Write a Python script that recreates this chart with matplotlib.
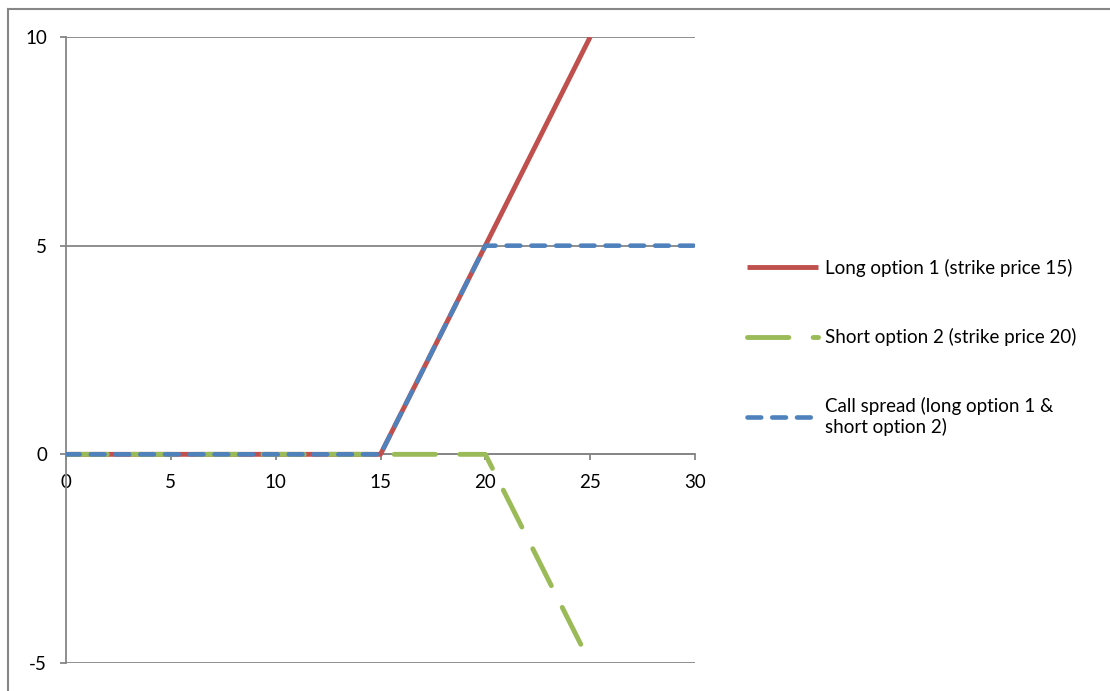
import matplotlib.pyplot as plt
from matplotlib.lines import Line2D

plt.rcParams['font.family'] = ['Lato', 'DejaVu Sans']

# payoff data
long_x = [0, 15, 25]
long_y = [0, 0, 10]
short_x = [0, 20, 25]
short_y = [0, 0, -5]
spread_x = [0, 15, 20, 30]
spread_y = [0, 0, 5, 5]

x_ticks = [0, 5, 10, 15, 20, 25, 30]
y_ticks = [-5, 0, 5, 10]

labels = ["Long option 1 (strike price 15)",
          "Short option 2 (strike price 20)",
          "Call spread (long option 1 &\nshort option 2)"]

grey = '#868686'

fig = plt.figure(figsize=(11.1, 6.91), dpi=100)
ax = fig.add_axes([66 / 1110, 1 - 663 / 691, (695 - 66) / 1110, (663 - 37) / 691])

ax.plot(long_x, long_y, color='#C0504D', lw=3.5, solid_capstyle='butt', label=labels[0], zorder=3)
ax.plot(short_x, short_y, color='#9BBB59', lw=3.5, dash_capstyle='round',
        linestyle=(0, (8.5, 5.0)), label=labels[1], zorder=4)
ax.plot(spread_x, spread_y, color='#4F81BD', lw=3.3, dash_capstyle='round',
        linestyle=(0, (3.0, 2.4)), label=labels[2], zorder=5)

ax.set_xlim(0, 30)
ax.set_ylim(-5, 10)
ax.set_xticks(x_ticks)
ax.set_yticks(y_ticks)
ax.set_yticklabels(['-5', '0', '5', '10'])

ax.grid(axis='y', color=grey, lw=1.3)
ax.set_axisbelow(True)
for s in ['top', 'right']:
    ax.spines[s].set_visible(False)
ax.spines['left'].set_color(grey)
ax.spines['left'].set_linewidth(1.3)
ax.spines['bottom'].set_position(('data', 0))
ax.spines['bottom'].set_color(grey)
ax.spines['bottom'].set_linewidth(1.3)
ax.tick_params(axis='y', direction='out', length=4.5, width=1.3, color=grey, pad=9, labelsize=13.5)
ax.tick_params(axis='x', direction='out', length=4.5, width=1.3, color=grey, pad=10, labelsize=13.5)

ax.legend(loc='upper left', bbox_to_anchor=(747 / 1110, 1 - 259 / 691),
          bbox_transform=fig.transFigure, frameon=False, fontsize=13.5,
          handlelength=3.8, handletextpad=0.37, labelspacing=2.72, borderaxespad=0,
          borderpad=0)

# outer chart border
fig.add_artist(Line2D([8 / 1110, 8 / 1110], [0, 1 - 8.5 / 691], color=grey, lw=1.5))
fig.add_artist(Line2D([8 / 1110, 1], [1 - 8.5 / 691, 1 - 8.5 / 691], color=grey, lw=1.5))

fig.savefig('out.png', dpi=100)
